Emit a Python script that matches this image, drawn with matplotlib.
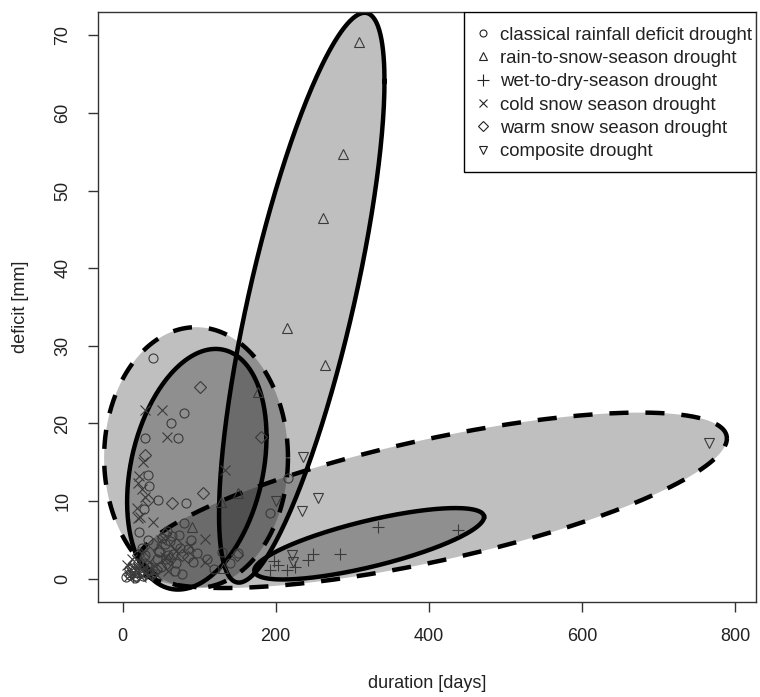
#!/usr/bin/env python
# coding:utf8
"""
drought events: duration vs. deficit, with one ellipse per drought type
"""
import numpy as np
import matplotlib
matplotlib.use('Agg')
import matplotlib.pyplot as plt
from matplotlib.patches import Rectangle

plt.rcParams['font.family'] = ['Liberation Sans', 'DejaVu Sans']

# events per drought type: duration [days], deficit [mm]
classical_dur = [40, 80, 63, 72, 29, 33, 83, 46, 193, 216, 80, 97, 151, 92, 33,
                 35, 28, 22, 20, 25, 30, 35, 45, 50, 55, 60, 65, 70, 75, 85,
                 90, 110, 120, 130, 140, 15, 10, 5, 18, 25, 58, 68, 78,
                 48, 52, 57, 62, 66, 74, 12, 16, 21, 27, 32, 38]
classical_def = [28.4, 21.3, 20.0, 18.1, 18.1, 13.4, 9.8, 10.2, 8.5, 13.0, 7.2, 3.3, 3.3, 2.2, 5.0,
                 12.0, 9.0, 6.0, 2.0, 4.0, 3.0, 1.0, 2.5, 1.5, 4.5, 3.0, 5.5, 2.0, 4.0, 3.8,
                 5.0, 2.5, 1.2, 3.5, 2.0, 1.0, 0.5, 0.2, 0.3, 0.8, 6.2, 1.0, 0.6,
                 3.4, 5.2, 2.6, 4.8, 3.2, 5.6, 1.4, 0.1, 0.9, 0.3, 1.8, 0.7]
rain_snow_dur = [309, 288, 262, 215, 264, 177, 151, 129, 91, 131]
rain_snow_def = [69.1, 54.7, 46.5, 32.3, 27.5, 24.1, 11.0, 9.9, 6.6, 1.4]
wet_dry_dur = [334, 438, 284, 249, 242, 203, 215, 193, 225, 198, 22, 38, 14]
wet_dry_def = [6.7, 6.3, 3.2, 3.2, 2.4, 1.8, 1.1, 1.1, 1.5, 2.3, 1.2, 0.6, 0.2]
cold_dur = [29, 52, 58, 27, 20, 20, 40, 23, 19, 134, 108, 108, 30, 25, 22,
            10, 15, 20, 30, 35, 45, 28, 60, 12, 8, 50, 88,
            6, 17, 24, 33, 42, 55, 70]
cold_def = [21.7, 21.7, 18.3, 15.0, 12.3, 7.8, 7.3, 8.0, 9.1, 14.0, 5.1, 2.2, 10.5, 11.5, 13.2,
            1.0, 0.5, 1.5, 0.8, 2.2, 0.5, 3.5, 1.0, 2.5, 0.3, 5.0, 4.2,
            1.8, 1.1, 0.2, 0.4, 1.6, 2.8, 3.6]
warm_dur = [101, 29, 105, 65, 181, 33, 55, 70, 85, 15, 20, 10, 25, 40, 150, 62, 48,
            8, 18, 30, 44, 58, 78]
warm_def = [24.7, 15.9, 11.0, 9.7, 18.2, 10.1, 5.8, 4.5, 2.8, 2.0, 3.0, 1.2, 1.8, 4.5, 3.0, 2.6, 3.6,
            0.6, 0.4, 0.9, 1.2, 2.0, 3.0]
composite_dur = [765, 255, 234, 236, 201, 221, 222]
composite_def = [17.5, 10.4, 8.7, 15.7, 10.0, 3.1, 2.2]

# ellipse per type: centre, half extent in x and y, correlation
ell_cx = [96, 97, 234, 404, 322]
ell_cy = [15.6, 14.1, 36.2, 10.1, 4.5]
ell_hx = [120, 91, 108, 385, 150]
ell_hy = [16.8, 15.5, 36.7, 11.3, 4.6]
ell_rho = [0.0, 0.27, 0.76, 0.705, 0.75]
ell_dashed = [True, False, False, True, False]

labels = ['classical rainfall deficit drought', 'rain-to-snow-season drought',
          'wet-to-dry-season drought', 'cold snow season drought',
          'warm snow season drought', 'composite drought']


def ellipse(cx, cy, hx, hy, rho, n=300):
    t = np.linspace(0, 2 * np.pi, n)
    x = cx + hx * np.cos(t)
    y = cy + hy * (rho * np.cos(t) + np.sqrt(1 - rho ** 2) * np.sin(t))
    return x, y


W, H = 760, 697
L, R, T, B = 98, 756, 12, 602  # plot box in pixels
fig = plt.figure(figsize=(W / 100, H / 100), dpi=100)
ax = fig.add_axes([L / W, 1 - B / H, (R - L) / W, (B - T) / H])

# fills first, outlines on top
shapes = [ellipse(*p) for p in zip(ell_cx, ell_cy, ell_hx, ell_hy, ell_rho)]
for x, y in shapes:
    ax.fill(x, y, color='black', alpha=0.25, lw=0, zorder=1)
for (x, y), dashed in zip(shapes, ell_dashed):
    ls = (0, (4.3, 3.8)) if dashed else '-'
    ax.plot(x, y, color='black', lw=3.2, ls=ls, zorder=2, solid_joinstyle='round')

pc = '#3a3a3a'
kw = dict(ls='none', mfc='none', mec=pc, ms=6.5, mew=0.8, zorder=3)
h1, = ax.plot(classical_dur, classical_def, marker='o', **kw)
h2, = ax.plot(rain_snow_dur, rain_snow_def, marker='^', **dict(kw, ms=7.5))
h3, = ax.plot(wet_dry_dur, wet_dry_def, marker='+', **dict(kw, ms=9))
h4, = ax.plot(cold_dur, cold_def, marker='x', **dict(kw, ms=7))
h5, = ax.plot(warm_dur, warm_def, marker='D', **dict(kw, ms=6))
h6, = ax.plot(composite_dur, composite_def, marker='v', **dict(kw, ms=7.5))

ax.set_xlim(-32, 827)
ax.set_ylim(-3.0, 73.0)
ax.set_xticks([0, 200, 400, 600, 800])
ax.set_yticks(np.arange(0, 71, 10))
for s in ax.spines.values():
    s.set_color('#333333')
    s.set_linewidth(1.0)
ax.tick_params(length=7, width=1, color='#333333', labelsize=13, pad=12,
               labelcolor='#222222')
plt.setp(ax.get_yticklabels(), rotation=90, va='center')

ax.set_xlabel('duration [days]', fontsize=13, color='#222222')
ax.set_ylabel('deficit [mm]', fontsize=13, color='#222222')
ax.xaxis.set_label_coords(0.5, -(683 - B) / (B - T))
ax.xaxis.label.set_va('center')
ax.yaxis.set_label_coords(-(L - 20) / (R - L), 0.5)
ax.yaxis.label.set_va('center')

# legend: entries without frame, box drawn separately (R style, tight right edge)
lms = [5, 6, 8, 5.5, 5, 6]
handles = []
for h, m in zip([h1, h2, h3, h4, h5, h6], lms):
    lh = plt.Line2D([], [], ls='none', marker=h.get_marker(), mfc='none',
                    mec='#222222', ms=m, mew=0.8)
    handles.append(lh)
leg = ax.legend(handles, labels, loc='upper left',
                bbox_to_anchor=((475 - L) / (R - L), (B - 26.5) / (B - T)),
                borderaxespad=0, borderpad=0, frameon=False,
                fontsize=13.4, handlelength=0.9, handletextpad=0.45,
                labelspacing=0.34)
for t in leg.get_texts():
    t.set_color('#222222')
ax.add_patch(Rectangle(((464 - L) / (R - L), (B - 172) / (B - T)),
                       (R - 464) / (R - L), 160 / (B - T), transform=ax.transAxes,
                       fill=True, facecolor='white', edgecolor='black', lw=1.0,
                       zorder=4))
leg.set_zorder(5)

plt.savefig('out.png', dpi=100)
